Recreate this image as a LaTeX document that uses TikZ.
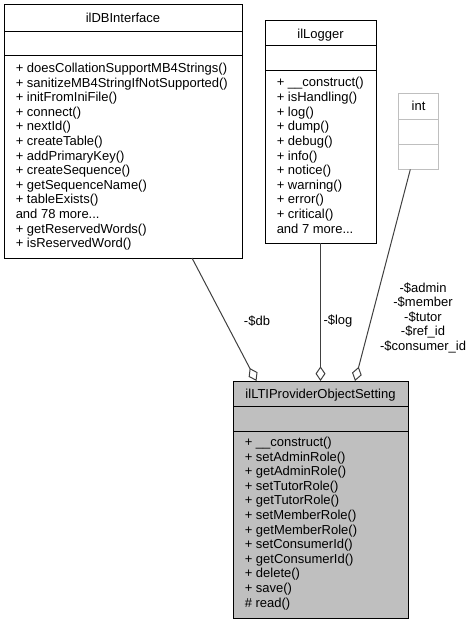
\documentclass[tikz,border=0pt]{standalone}
\usepackage{fontspec}
\setmainfont{Liberation Sans}
\usetikzlibrary{arrows.meta}
\newcommand{\umlfont}{\fontsize{9.75}{10.95}\selectfont}
\definecolor{boxgrey}{HTML}{BFBFBF}
\definecolor{edgegrey}{HTML}{404040}

\begin{document}
\begin{tikzpicture}[x=0.75pt,y=0.75pt,yscale=-1,xscale=1,
  classtitle/.style={anchor=base,inner sep=0pt,font=\umlfont},
  classops/.style={anchor=base west,inner sep=0pt,align=left,font=\umlfont},
  rolelabel/.style={inner sep=0pt,align=center,font=\umlfont},
  aggr/.style={draw=edgegrey,line width=0.75pt,-{Diamond[open,length=11pt,width=7.5pt,line width=0.75pt]}}]
\useasboundingbox (0,0) rectangle (471,624);

%Shape: Rectangle [ilDBInterface]
\draw[line width=0.75pt] (4,5) rectangle (242,258);
\draw[line width=0.75pt] (4,31.5) -- (242,31.5) (4,56) -- (242,56);
%Shape: Rectangle [ilLogger]
\draw[line width=0.75pt] (265,21) rectangle (376,243);
\draw[line width=0.75pt] (265,46) -- (376,46) (265,71) -- (376,71);
%Shape: Rectangle [int]
\draw[boxgrey,line width=0.75pt] (398.5,93.5) rectangle (438.5,169.5);
\draw[boxgrey,line width=0.75pt] (398.5,119.5) -- (438.5,119.5) (398.5,144.5) -- (438.5,144.5);
%Shape: Rectangle [ilLTIProviderObjectSetting]
\draw[fill=boxgrey,line width=0.75pt] (233,381) rectangle (408,618.5);
\draw[line width=0.75pt] (233,406) -- (408,406) (233,431) -- (408,431);

% Text Node
\node[classtitle] (dbtitle) at (123,22.5) {ilDBInterface};
% Text Node (anchored at the baseline of its last line)
\node[classops] (dbops) at (15.5,247.7) {+ doesCollationSupportMB4Strings()\\+ sanitizeMB4StringIfNotSupported()\\+ initFromIniFile()\\+ connect()\\+ nextId()\\+ createTable()\\+ addPrimaryKey()\\+ createSequence()\\+ getSequenceName()\\+ tableExists()\\and 78 more...\\+ getReservedWords()\\+ isReservedWord()};
% Text Node
\node[classtitle] (logtitle) at (320.5,38.5) {ilLogger};
% Text Node
\node[classops] (logops) at (276.5,233) {+ \_\_construct()\\+ isHandling()\\+ log()\\+ dump()\\+ debug()\\+ info()\\+ notice()\\+ warning()\\+ error()\\+ critical()\\and 7 more...};
% Text Node
\node[classtitle] (inttitle) at (418.5,110.5) {int};
% Text Node
\node[classtitle] (ltititle) at (320.5,398.5) {ilLTIProviderObjectSetting};
% Text Node
\node[classops] (ltiops) at (244.5,607.1) {+ \_\_construct()\\+ setAdminRole()\\+ getAdminRole()\\+ setTutorRole()\\+ getTutorRole()\\+ setMemberRole()\\+ getMemberRole()\\+ setConsumerId()\\+ getConsumerId()\\+ delete()\\+ save()\\\# read()};

% Connectors
\coordinate (dbfoot) at (192,258);
\coordinate (dbhead) at (256.5,381);
\coordinate (logfoot) at (320.5,243);
\coordinate (loghead) at (320.5,381);
\coordinate (intfoot) at (410.3,169.5);
\coordinate (inthead) at (355,381);
\draw[aggr] (dbfoot) -- (dbhead);
\draw[aggr] (logfoot) -- (loghead);
\draw[aggr] (intfoot) -- (inthead);

% Text Node
\node[rolelabel] (dblabel) at (257,321) {-\$db};
% Text Node
\node[rolelabel] (loglabel) at (338,321) {-\$log};
% Text Node
\node[rolelabel,anchor=base] (intlabel) at (423,350.5) {-\$admin\\-\$member\\-\$tutor\\-\$ref\_id\\-\$consumer\_id};
\end{tikzpicture}
\end{document}
